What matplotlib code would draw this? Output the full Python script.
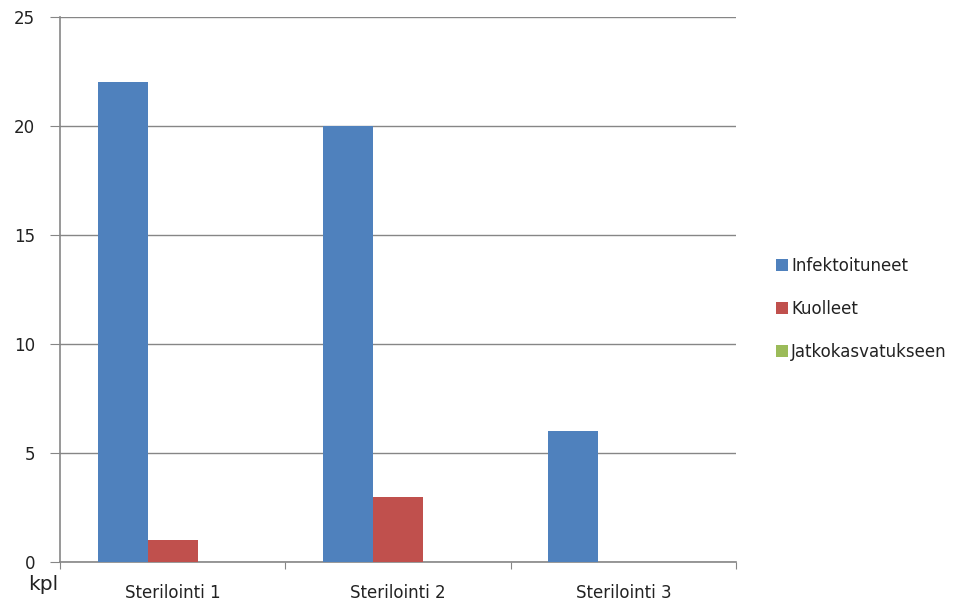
import numpy as np
import matplotlib
matplotlib.use('Agg')
from matplotlib import pyplot as plt
from matplotlib.patches import Patch

# chart data
categories = ['Sterilointi 1', 'Sterilointi 2', 'Sterilointi 3']
series_names = ['Infektoituneet', 'Kuolleet', 'Jatkokasvatukseen']
infektoituneet = [22, 20, 6]
kuolleet = [1, 3, 0]
jatkokasvatukseen = [0, 0, 0]
y_ticks = [0, 5, 10, 15, 20, 25]

colors = ['#4F81BD', '#C0504D', '#9BBB59']
grid_col = '#868686'

plt.rcParams['font.family'] = ['DejaVu Sans']
plt.rcParams['text.color'] = '#222222'

fig = plt.figure(figsize=(9.65, 6.1), dpi=100)
ax = fig.add_axes([60/965, 48/610, 676/965, 545/610])

x = np.arange(len(categories))
w = 0.222
for i, vals in enumerate([infektoituneet, kuolleet, jatkokasvatukseen]):
    ax.bar(x + (i - 1) * w, vals, width=w, color=colors[i], zorder=3)

ax.set_xlim(-0.5, len(categories) - 0.5)
ax.set_ylim(0, 25)
ax.set_yticks(y_ticks)
ax.yaxis.grid(True, color=grid_col, lw=1, zorder=0)

# category boundaries as major ticks, labels on minor ticks
ax.set_xticks(np.arange(len(categories) + 1) - 0.5)
ax.set_xticklabels([])
ax.set_xticks(x, minor=True)
ax.set_xticklabels(categories, minor=True, fontsize=12, color='#222222')
ax.tick_params(axis='x', which='minor', length=0, pad=16)
ax.tick_params(axis='x', which='major', length=5, color=grid_col, direction='out')
ax.tick_params(axis='y', length=7, color=grid_col, labelsize=12, pad=11, labelcolor='#222222')

for s in ['top', 'right']:
    ax.spines[s].set_visible(False)
for s in ['left', 'bottom']:
    ax.spines[s].set_color(grid_col)
    ax.spines[s].set_linewidth(1.2)

handles = [Patch(facecolor=c) for c in colors]
fig.legend(handles, series_names, loc='upper left', bbox_to_anchor=(761/965, 1 - 242/610),
           frameon=False, fontsize=12, labelspacing=1.5, handlelength=0.7,
           handleheight=0.7, handletextpad=0.2)

fig.text(28/965, 1 - 585/610, 'kpl', fontsize=14.5, ha='left', va='center')

fig.savefig('out.png', dpi=100)
